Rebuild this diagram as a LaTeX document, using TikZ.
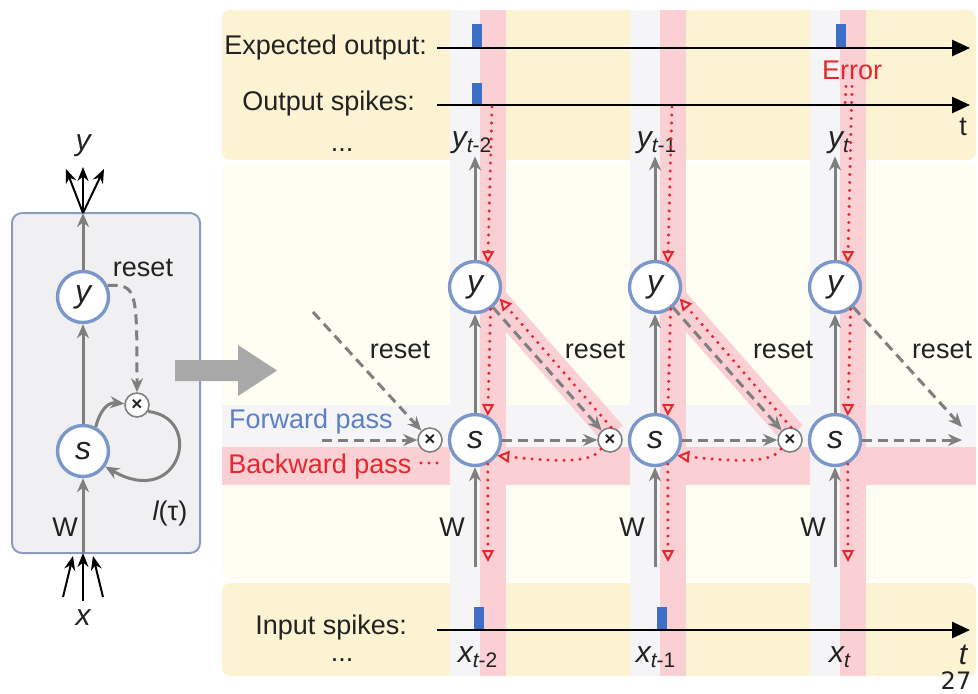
\documentclass[tikz,border=0pt]{standalone}
\usepackage{fontspec}
\setmainfont{Liberation Sans}
\newfontfamily\pagefont{DejaVu Sans}
\usepackage{tikz}
\usetikzlibrary{arrows.meta}
\definecolor{bandyel}{HTML}{FCF3D3}
\definecolor{panelcream}{HTML}{FFFEF2}
\definecolor{stripgray}{HTML}{F5F5F7}
\definecolor{pinkband}{HTML}{FAD0D4}
\definecolor{errred}{HTML}{E8262E}
\definecolor{fwdgray}{HTML}{7F7F7F}
\definecolor{neuronblue}{HTML}{7B97C9}
\definecolor{spikeblue}{HTML}{3D6FC6}
\definecolor{fwdblue}{HTML}{5A80C6}
\definecolor{cellfill}{HTML}{F0F0F2}
\definecolor{celldraw}{HTML}{8D9BC0}
\definecolor{bigarrow}{HTML}{A8A8A8}
\definecolor{txtdark}{HTML}{222222}
\newcommand{\tsub}[2]{{\itshape #1}\textsubscript{\itshape t\upshape #2}}

\begin{document}
\begin{tikzpicture}[x=0.5pt, y=-0.5pt, >={Stealth[length=7pt,width=6pt]},
    every node/.style={font=\fontsize{13.5}{16}\selectfont, text=txtdark},
    neuron/.style={circle, draw=neuronblue, fill=white, line width=1.7pt, minimum size=25.5pt, inner sep=0pt, font=\fontsize{16}{17}\selectfont\itshape},
    mult/.style={circle, draw=fwdgray, fill=white, line width=0.8pt, minimum size=12pt, inner sep=0pt, font=\fontsize{9.5}{9.5}\selectfont\bfseries},
    sublbl/.style={font=\fontsize{15}{16}\selectfont, inner sep=1pt},
    fwd/.style={draw=fwdgray, line width=1.5pt, ->},
    resetarrow/.style={fwd, dash pattern=on 5pt off 3pt},
    bwdplain/.style={draw=errred, line width=1.7pt, line cap=round, dash pattern=on 0pt off 4pt},
    bwd/.style={bwdplain, -{Triangle[open, length=6pt, width=6pt, line width=1pt]}},
    timeaxis/.style={draw=black, line width=1.3pt, -{Triangle[length=9pt, width=8pt]}},
    thinarrow/.style={draw=black, line width=1pt, -{Stealth[length=7pt, width=5.5pt]}},
    cellbox/.style={draw=celldraw, fill=cellfill, line width=1pt, rounded corners=5pt}]
  \useasboundingbox (0,0) rectangle (978,693);

  % background bands and strips
  \fill[bandyel, rounded corners=4pt] (222,10) rectangle (976,160);
  \fill[panelcream, rounded corners=4pt] (222,164) rectangle (976,579);
  \fill[bandyel, rounded corners=4pt] (222,583) rectangle (976,676);
  \fill[stripgray] (222,405) rectangle (976,447);
  \fill[pinkband] (222,447) rectangle (976,485);
  \fill[stripgray] (450,10) rectangle (480,676);
  \fill[pinkband] (480,10) rectangle (506,676);
  \fill[stripgray] (630,10) rectangle (660,676);
  \fill[pinkband] (660,10) rectangle (686,676);
  \fill[stripgray] (810,10) rectangle (840,676);
  \fill[pinkband] (840,10) rectangle (866,676);
  \draw[pinkband, line width=13pt] (492,296) -- (613,434);
  \draw[pinkband, line width=13pt] (672,296) -- (793,434);

  % single cell
  \draw[cellbox] (12,213) rectangle (200,553);
  \node[neuron] (ly) at (83,297) {y};
  \node[neuron] (ls) at (83,451) {s};
  \node[mult] (lm) at (137,405) {×};
  \node[sublbl] (lyl) at (83,146) {\itshape y};
  \node[sublbl] (lxl) at (83,618) {\itshape x};
  \node (lW) at (65,527) {W};
  \node (lreset) at (143,268) {reset};
  \node (ltau) at (170,513) {\itshape l\upshape(τ)};
  \coordinate (lTop) at (83,213);
  \coordinate (lBot) at (83,553);
  \coordinate (lo1) at (66,169);
  \coordinate (lo2) at (83,167);
  \coordinate (lo3) at (104,169);
  \coordinate (li1) at (63,597);
  \coordinate (li2) at (83,601);
  \coordinate (li3) at (103,597);
  \coordinate (lb1) at (73,556);
  \coordinate (lb3) at (93,556);
  \draw[fwd] (lBot) -- (ls);
  \draw[fwd] (ls) -- (ly);
  \draw[fwd] (ly) -- (lTop);
  \draw[thinarrow] (lTop) -- (lo1);
  \draw[thinarrow] (lTop) -- (lo2);
  \draw[thinarrow] (lTop) -- (lo3);
  \draw[thinarrow] (li1) -- (lb1);
  \draw[thinarrow] (li2) -- (lBot);
  \draw[thinarrow] (li3) -- (lb3);
  \draw[resetarrow] (ly.25) .. controls (137,284) and (137,290) .. (lm);
  \draw[fwd] (ls.62) .. controls (100,410) and (108,402) .. (lm);
  \draw[fwd] (lm.-30) .. controls (205,418) and (180,510) .. (ls.-35);

  % unroll arrow
  \fill[bigarrow] (175,360) -- (238,360) -- (238,345) -- (277,370.5) -- (238,396) -- (238,381) -- (175,381) -- cycle;

  % spike trains
  \node[anchor=east] (expLbl) at (434,48) {Expected output:};
  \node[anchor=east] (outLbl) at (422,104) {Output spikes:};
  \node[anchor=east] (inLbl) at (414,627) {Input spikes:};
  \node (topDots) at (342,150) {...};
  \node (botDots) at (342,660) {...};
  \coordinate (expS) at (437,48);
  \coordinate (expE) at (970,48);
  \coordinate (outS) at (437,105);
  \coordinate (outE) at (970,105);
  \coordinate (inS) at (437,630);
  \coordinate (inE) at (970,630);
  \fill[spikeblue] (472,24) rectangle (482,48);
  \fill[spikeblue] (836,24) rectangle (846,48);
  \fill[spikeblue] (472,83) rectangle (482,105);
  \fill[spikeblue] (474,607) rectangle (484,630);
  \fill[spikeblue] (657,607) rectangle (667,630);
  \draw[timeaxis] (expS) -- (expE);
  \draw[timeaxis] (outS) -- (outE);
  \draw[timeaxis] (inS) -- (inE);
  \node (tTop) at (963,127) {t};
  \node[sublbl] (tBot) at (963,655) {\itshape t};
  \node[text=errred] (err) at (852,70) {Error};

  % unrolled neurons
  \node[neuron] (y1) at (475,287) {y};
  \node[neuron] (y2) at (655,287) {y};
  \node[neuron] (y3) at (835,287) {y};
  \node[neuron] (s1) at (475,440) {s};
  \node[neuron] (s2) at (655,440) {s};
  \node[neuron] (s3) at (835,440) {s};
  \node[mult] (m1) at (430,440) {×};
  \node[mult] (m2) at (610,440) {×};
  \node[mult] (m3) at (790,440) {×};
  \node[sublbl] (yl1) at (472,143) {\tsub{y}{-2}};
  \node[sublbl] (yl2) at (657,143) {\tsub{y}{-1}};
  \node[sublbl] (yl3) at (839,143) {\tsub{y}{}};
  \node[sublbl] (xl1) at (478,657) {\tsub{x}{-2}};
  \node[sublbl] (xl2) at (656,657) {\tsub{x}{-1}};
  \node[sublbl] (xl3) at (840,657) {\tsub{x}{}};
  \node (W1) at (452,527) {W};
  \node (W2) at (632,527) {W};
  \node (W3) at (813,527) {W};
  \node (rs0) at (400,350) {reset};
  \node (rs1) at (595,350) {reset};
  \node (rs2) at (783,350) {reset};
  \node (rs3) at (942,350) {reset};
  \node[text=fwdblue] (fwdLbl) at (311,422) {Forward pass};
  \node[text=errred] (bwdLbl) at (320,467) {Backward pass};
  \coordinate (w1) at (475,567);
  \coordinate (w2) at (655,567);
  \coordinate (w3) at (835,567);
  \coordinate (fin) at (322,440);
  \coordinate (fout) at (962,440);
  \coordinate (rin) at (313,312);
  \coordinate (rout) at (962,427);

  % forward pass
  \draw[fwd] (w1) -- (s1);
  \draw[fwd] (w2) -- (s2);
  \draw[fwd] (w3) -- (s3);
  \draw[fwd] (s1) -- (y1);
  \draw[fwd] (s2) -- (y2);
  \draw[fwd] (s3) -- (y3);
  \draw[fwd] (y1) -- (y1 |- yl1.south);
  \draw[fwd] (y2) -- (y2 |- yl2.south);
  \draw[fwd] (y3) -- (y3 |- yl3.south);
  \draw[resetarrow] (fin) -- (m1);
  \draw[resetarrow] (s1) -- (m2);
  \draw[resetarrow] (s2) -- (m3);
  \draw[resetarrow] (s3) -- (fout);
  \draw[resetarrow] (rin) -- (m1);
  \draw[resetarrow] (y1) -- (m2);
  \draw[resetarrow] (y2) -- (m3);
  \draw[resetarrow] (y3) -- (rout);

  % backward pass
  \coordinate (o1) at (492,107);
  \coordinate (o2) at (672,107);
  \coordinate (eo) at (845,105);
  \coordinate (d1) at (488,562);
  \coordinate (d2) at (668,562);
  \coordinate (d3) at (848,562);
  \coordinate (bl1) at (421,463);
  \coordinate (bl2) at (440,463);
  \draw[bwdplain] (bl1) -- (bl2);
  \draw[bwd] (o1) -- (y1.62);
  \draw[bwd] (o2) -- (y2.62);
  \draw[bwdplain] ([xshift=-3pt]err.south) -- (eo);
  \draw[bwd] (err.south) -- (y3.62);
  \draw[bwd] (y1.-55) -- (s1.62);
  \draw[bwd] (y2.-55) -- (s2.62);
  \draw[bwd] (y3.-55) -- (s3.62);
  \draw[bwd] (s1.-62) -- (d1);
  \draw[bwd] (s2.-62) -- (d2);
  \draw[bwd] (s3.-62) -- (d3);
  \draw[bwd] (m2.85) -- (y1.-25);
  \draw[bwd] (m3.85) -- (y2.-25);
  \draw[bwd] (m2.-135) .. controls (592,463) and (560,462) .. (s1.-35);
  \draw[bwd] (m3.-135) .. controls (772,463) and (740,462) .. (s2.-35);

  \node[font=\pagefont\fontsize{12}{13}\selectfont, inner sep=0pt] (pg) at (956,681) {27};
\end{tikzpicture}
\end{document}
